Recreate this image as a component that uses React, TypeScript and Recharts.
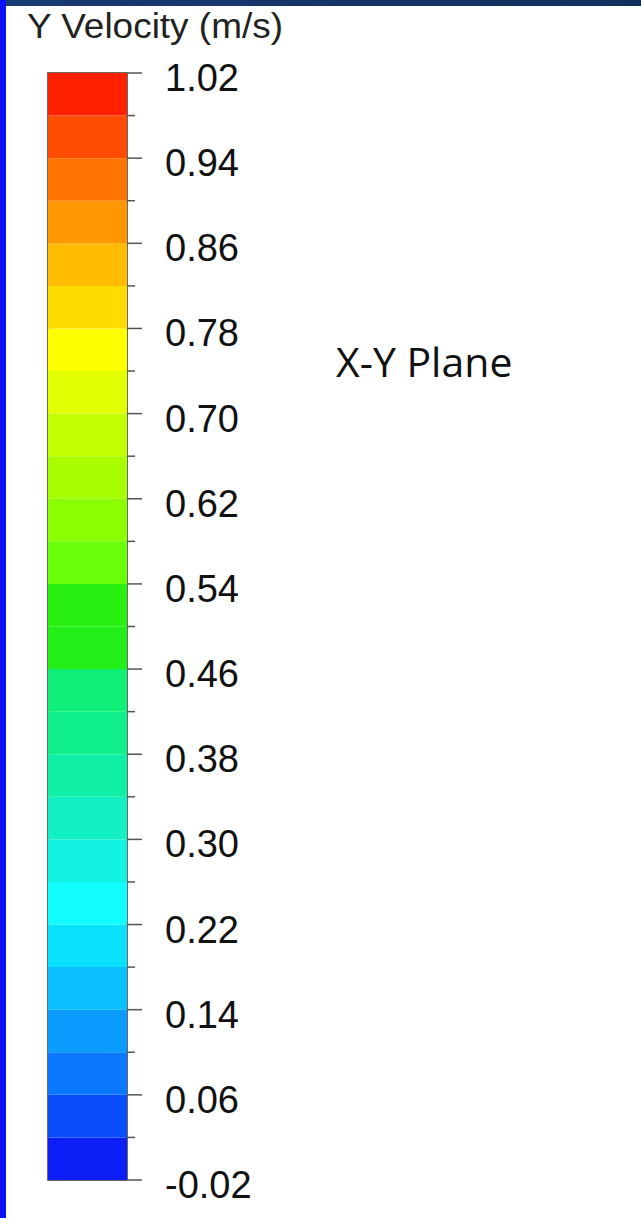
import React from 'react';
import { BarChart, Bar, XAxis, YAxis, ReferenceArea } from 'recharts';

// Colour band edges (m/s), bottom to top
const bandEdges = [
  -0.02, 0.02, 0.06, 0.1, 0.14, 0.18, 0.22, 0.26, 0.3, 0.34, 0.38, 0.42, 0.46, 0.5,
  0.54, 0.58, 0.62, 0.66, 0.7, 0.74, 0.78, 0.82, 0.86, 0.9, 0.94, 0.98, 1.02,
];
// Band colours, bottom to top
const bandColors = [
  '#0a1ef5', '#0a4cf8', '#0a78ff', '#0a9cff', '#0abfff', '#0ae0ff', '#10fcff',
  '#12f2e0', '#12f0c4', '#10f0a4', '#10f08c', '#10f078', '#22ee18', '#28f010',
  '#68ff08', '#8cff00', '#a8ff00', '#c4ff00', '#e2ff00', '#ffff00', '#ffdc00',
  '#ffbc00', '#ff9800', '#ff7400', '#ff4c00', '#ff2000',
];
const majorTicks = [-0.02, 0.06, 0.14, 0.22, 0.3, 0.38, 0.46, 0.54, 0.62, 0.7, 0.78, 0.86, 0.94, 1.02];
const minorTicks = [0.02, 0.1, 0.18, 0.26, 0.34, 0.42, 0.5, 0.58, 0.66, 0.74, 0.82, 0.9, 0.98];
const titleText = 'Y Velocity (m/s)';
const planeText = 'X-Y Plane';

const row: Record<string, any> = { name: 'colorbar', base: bandEdges[0] };
bandColors.forEach((_, i) => {
  row['b' + i] = bandEdges[i + 1] - bandEdges[i];
});
const data = [row];
const allTicks = [...majorTicks, ...minorTicks].sort((a, b) => a - b);

const Tick = (props: any) => {
  const { x, y, payload } = props;
  const v = Number(payload.value);
  const isMajor = majorTicks.some((m) => Math.abs(m - v) < 1e-6);
  return (
    <g>
      <line x1={x} y1={y} x2={x + (isMajor ? 15 : 8)} y2={y} stroke="#555" strokeWidth={1.5} />
      {isMajor && (
        <text x={x + 38} y={y + 18} fontFamily="'Liberation Sans', Arial, sans-serif" fontSize={38} fill="#111" textAnchor="start">
          {v.toFixed(2)}
        </text>
      )}
    </g>
  );
};

export default function App() {
  return (
    <div style={{ position: 'absolute', left: 0, top: 0, width: 641, height: 1218, background: '#fff', overflow: 'hidden' }}>
      <div style={{ position: 'absolute', left: 0, top: 0, width: 641, height: 6, background: 'linear-gradient(90deg,#173a72,#12305e)' }} />
      <div style={{ position: 'absolute', left: 0, top: 0, width: 6, height: 1218, background: '#0a12f2' }} />
      <div style={{ position: 'absolute', left: 0, top: 0 }}>
        <BarChart width={641} height={1218} data={data} margin={{ top: 73, bottom: 38, left: 48, right: 414 }} barCategoryGap={0} barGap={0} stackOffset="none">
          <XAxis dataKey="name" type="category" hide />
          <YAxis
            orientation="right"
            type="number"
            domain={[bandEdges[0], bandEdges[bandEdges.length - 1]]}
            allowDataOverflow
            ticks={allTicks}
            interval={0}
            width={100}
            tickSize={0}
            tickMargin={0}
            axisLine={false}
            tickLine={false}
            tick={<Tick />}
          />
          <Bar dataKey="base" stackId="s" fill="transparent" isAnimationActive={false} />
          {bandColors.map((c, i) => (
            <Bar key={i} dataKey={'b' + i} stackId="s" fill={c} isAnimationActive={false} />
          ))}
          <ReferenceArea y1={bandEdges[0]} y2={bandEdges[bandEdges.length - 1]} fill="none" stroke="#3a3a3a" strokeWidth={1.5} ifOverflow="visible" />
        </BarChart>
      </div>
      <svg width={641} height={1218} style={{ position: 'absolute', left: 0, top: 0, pointerEvents: 'none' }}>
        <text x={27} y={38} fontFamily="'Liberation Sans', Arial, sans-serif" fontSize={35} textLength={256} lengthAdjust="spacingAndGlyphs" fill="#222">{titleText}</text>
        <text x={336} y={377} fontFamily="'Open Sans', sans-serif" fontSize={41} fill="#111">{planeText}</text>
      </svg>
    </div>
  );
}
